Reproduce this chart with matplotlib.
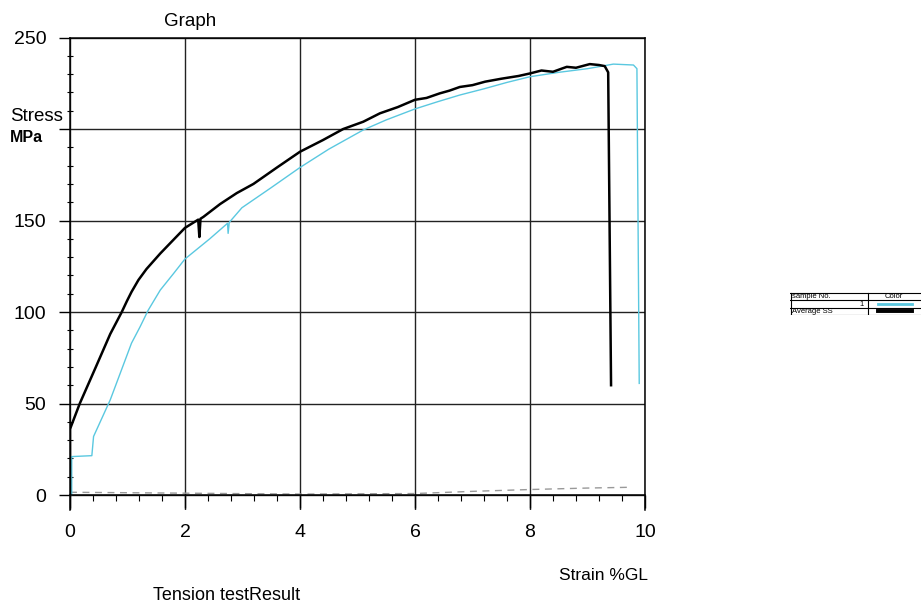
import matplotlib
matplotlib.use("Agg")
import matplotlib.pyplot as plt
from matplotlib.ticker import MultipleLocator

plt.rcParams['font.family'] = ['Liberation Sans', 'DejaVu Sans']

# strain (%GL) / stress (MPa)
avg_strain = [0, 0, 0.17, 0.45, 0.70, 0.90, 0.99, 1.07, 1.19, 1.33, 1.57, 1.8, 2.0, 2.23, 2.25, 2.27, 2.32,
              2.61, 2.9, 3.19, 3.6, 4.0, 4.4, 4.75, 5.1, 5.39, 5.7, 6.0, 6.2, 6.43, 6.6,
              6.78, 7.0, 7.22, 7.5, 7.8, 8.0, 8.2, 8.4, 8.55, 8.64, 8.8, 9.04, 9.2, 9.3,
              9.36, 9.41]
avg_stress = [0, 36, 50, 70, 88, 100, 106, 111, 117.5, 123.5, 132, 139.5, 146, 150.5, 141, 151, 152,
              159, 165, 170, 179, 187.6, 194, 200, 204, 208.6, 212, 216, 217, 219.5, 221,
              223, 224, 225.9, 227.5, 229, 230.4, 232, 231.3, 233, 234, 233.5, 235.5, 235, 234.4,
              231, 60]

s1_strain = [0.03, 0.03, 0.38, 0.41, 0.70, 1.07, 1.22, 1.36, 1.57, 1.8, 2.0, 2.43, 2.74, 2.75, 2.77,
             2.99, 3.5, 4.0, 4.5, 5.1, 5.5, 6.0, 6.4, 6.78, 7.2, 7.6, 8.0, 8.5, 9.0, 9.45,
             9.8, 9.86, 9.9]
s1_stress = [0, 21, 21.5, 32, 52, 83, 92, 101, 112, 121, 129, 140, 148.5, 143, 149,
             157, 168, 179, 189, 199.5, 205, 211, 215, 218.6, 222, 225.5, 228.6, 231, 233, 235.5,
             235, 233, 61]

base_strain = [0, 2, 4, 6, 7, 8, 9, 9.7]
base_stress = [1.5, 1, 0.5, 0.8, 2, 3, 3.8, 4.2]

x_ticks = [0, 2, 4, 6, 8, 10]
y_ticks = [0, 50, 100, 150, 200, 250]
y_labels = ['0', '50', '100', '150', '', '250']

cyan = '#5ac8e0'

fig = plt.figure(figsize=(9.21, 6.06), dpi=100)
ax = fig.add_axes([0.076, 0.159, 0.6243, 0.779])

ax.plot(base_strain, base_stress, color='#999999', lw=1, ls=(0, (5, 4)))
ax.plot(s1_strain, s1_stress, color=cyan, lw=1.0)
ax.plot(avg_strain, avg_stress, color='black', lw=1.8)

ax.set_xlim(0, 10)
ax.set_ylim(-8, 250)
ax.set_xticks(x_ticks)
ax.set_yticks(y_ticks)
ax.set_yticklabels(y_labels)
ax.xaxis.set_minor_locator(MultipleLocator(0.4))
ax.yaxis.set_minor_locator(MultipleLocator(10))

ax.spines['bottom'].set_position(('data', 0))
for s in ax.spines.values():
    s.set_linewidth(1.1)
ax.grid(True, which='major', color='#222222', lw=1.0)
ax.set_axisbelow(True)

ax.tick_params(axis='x', which='major', length=9, width=1, pad=12, labelsize=14)
ax.tick_params(axis='x', which='minor', length=4, width=0.8)
ax.tick_params(axis='y', which='major', length=8, width=1, pad=9, labelsize=14)
ax.tick_params(axis='y', which='minor', length=4, width=0.8, direction='inout')

fig.text(190 / 921, 1 - 22 / 606, "Graph", ha='center', va='center', fontsize=13.5)
fig.text(10 / 921, 1 - 117 / 606, "Stress", ha='left', va='center', fontsize=13.5)
fig.text(10 / 921, 1 - 137 / 606, "MPa", ha='left', va='center', fontsize=11.5, fontweight='bold')
fig.text(648 / 921, 1 - 575 / 606, "Strain %GL", ha='right', va='center', fontsize=12.5)
fig.text(153 / 921, 1 - 596 / 606, "Tension testResult", ha='left', va='center', fontsize=13)

# small legend table, cut off at the right edge like the scan
leg = fig.add_axes([790 / 921, 1 - 315 / 606, 131 / 921, 23 / 606])
leg.set_xlim(0, 131)
leg.set_ylim(23, 0)
leg.axis('off')
for yy in [1, 8.3, 15.6, 22.9]:
    leg.plot([0, 131], [yy, yy], color='black', lw=0.8)
leg.plot([0.5, 0.5], [1, 22.9], color='black', lw=0.8)
leg.plot([78, 78], [1, 22.9], color='black', lw=0.8)
leg.text(2, 4.7, "sample No.", fontsize=5.5, va='center', ha='left')
leg.text(104, 4.7, "Color", fontsize=5.5, va='center', ha='center')
leg.text(74, 12, "1", fontsize=5.5, va='center', ha='right')
leg.text(2, 19.3, "Average SS", fontsize=5.5, va='center', ha='left')
leg.plot([88, 122], [12, 12], color=cyan, lw=2)
leg.plot([88, 122], [19.3, 19.3], color='black', lw=2.8)

fig.savefig("out.png", dpi=100)
